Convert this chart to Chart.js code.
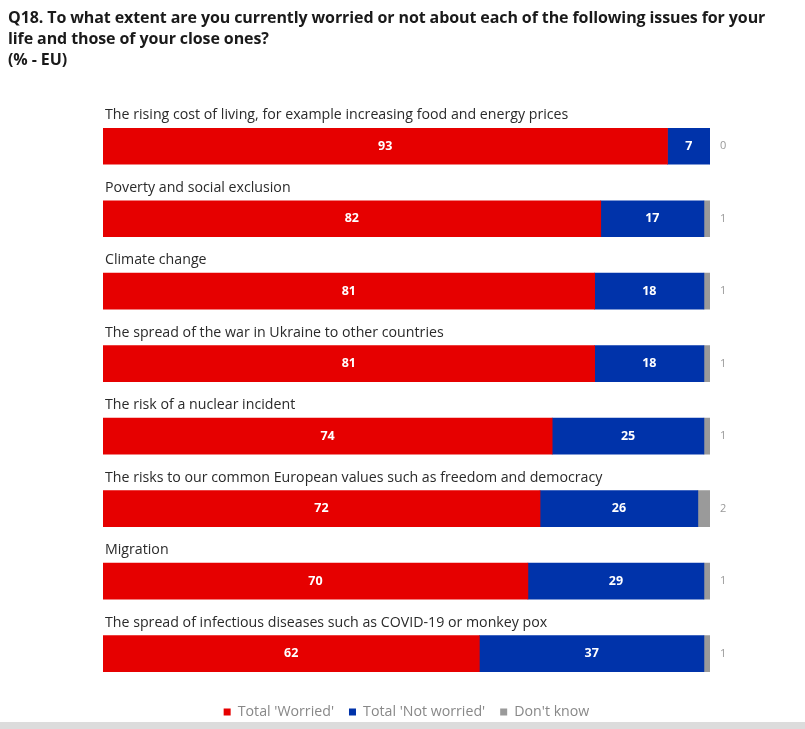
<!DOCTYPE html>
<html>
<head>
<meta charset="utf-8">
<script src="https://cdn.jsdelivr.net/npm/chart.js@4"></script>
<style>
  html, body { margin: 0; padding: 0; background: #fff; }
  #wrap { position: relative; width: 805px; height: 729px; overflow: hidden; }
  #title {
    position: absolute; left: 8px; top: 7px; width: 795px; z-index: 2;
    font-family: "Open Sans", sans-serif; font-weight: bold; font-size: 16px;
    line-height: 21px; color: #1a1a1a; white-space: nowrap; letter-spacing: -0.1px;
  }
  canvas { position: absolute; left: 0; top: 0; z-index: 1; }
</style>
</head>
<body>
<div id="wrap">
  <div id="title">Q18. To what extent are you currently worried or not about each of the following issues for your<br>life and those of your close ones?<br>(% - EU)</div>
  <canvas id="chart" width="805" height="729"></canvas>
</div>
<script>
const issues = [
  'The rising cost of living, for example increasing food and energy prices',
  'Poverty and social exclusion',
  'Climate change',
  'The spread of the war in Ukraine to other countries',
  'The risk of a nuclear incident',
  'The risks to our common European values such as freedom and democracy',
  'Migration',
  'The spread of infectious diseases such as COVID-19 or monkey pox'
];
const worried = [93, 82, 81, 81, 74, 72, 70, 62];
const notWorried = [7, 17, 18, 18, 25, 26, 29, 37];
const dontKnow = [0, 1, 1, 1, 1, 2, 1, 1];

const RED = '#e60000';
const BLUE = '#0033aa';
const GREY = '#9a9a9a';

// white page with the grey strip along the bottom edge
const pageBackground = {
  id: 'pageBackground',
  beforeDraw(chart) {
    const ctx = chart.ctx;
    ctx.save();
    ctx.fillStyle = '#fff';
    ctx.fillRect(0, 0, chart.width, chart.height);
    ctx.fillStyle = '#dcdcdc';
    ctx.fillRect(0, chart.height - 7, chart.width, 7);
    ctx.restore();
  }
};

// issue names above each bar, values inside the segments, "don't know" to the right
const barText = {
  id: 'barText',
  afterDatasetsDraw(chart) {
    const ctx = chart.ctx;
    const area = chart.chartArea;
    ctx.save();
    ctx.textBaseline = 'middle';
    chart.getDatasetMeta(0).data.forEach((bar, i) => {
      ctx.font = '14.2px "Open Sans", sans-serif';
      ctx.fillStyle = '#2a2a2a';
      ctx.textAlign = 'left';
      ctx.fillText(issues[i], area.left + 2, bar.y - bar.height / 2 - 13);
    });
    [0, 1].forEach(d => {
      chart.getDatasetMeta(d).data.forEach((bar, i) => {
        const v = chart.data.datasets[d].data[i];
        ctx.font = 'bold 12.5px "Open Sans", sans-serif';
        ctx.fillStyle = '#fff';
        ctx.textAlign = 'center';
        ctx.fillText(String(v), (bar.base + bar.x) / 2, bar.y);
      });
    });
    chart.getDatasetMeta(2).data.forEach((bar, i) => {
      ctx.font = '11px "Open Sans", sans-serif';
      ctx.fillStyle = '#999';
      ctx.textAlign = 'left';
      ctx.fillText(String(dontKnow[i]), area.right + 10, bar.y);
    });
    ctx.restore();
  }
};

new Chart(document.getElementById('chart'), {
  type: 'bar',
  data: {
    labels: issues,
    datasets: [
      { label: "Total 'Worried'", data: worried, backgroundColor: RED },
      { label: "Total 'Not worried'", data: notWorried, backgroundColor: BLUE },
      { label: "Don't know", data: dontKnow, backgroundColor: GREY }
    ]
  },
  options: {
    indexAxis: 'y',
    responsive: false,
    animation: false,
    barThickness: 36,
    layout: { padding: { left: 103, right: 95, top: 110, bottom: 0 } },
    scales: {
      x: { stacked: true, min: 0, max: 100, display: false },
      y: { stacked: true, display: false }
    },
    plugins: {
      tooltip: { enabled: false },
      legend: {
        position: 'bottom',
        labels: {
          boxWidth: 7,
          boxHeight: 7,
          padding: 15,
          color: '#888',
          font: { family: '"Open Sans", sans-serif', size: 14.2 }
        }
      }
    }
  },
  plugins: [pageBackground, barText]
});
</script>
</body>
</html>
